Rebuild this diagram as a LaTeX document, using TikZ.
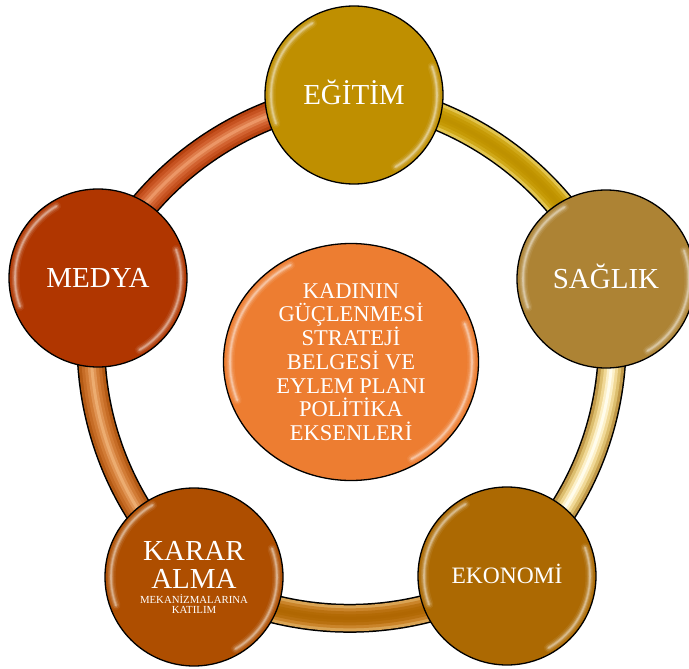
\documentclass[tikz,border=0pt]{standalone}
\usepackage{fontspec}
\setmainfont{Liberation Serif}
\usetikzlibrary{shapes.geometric,backgrounds}

\definecolor{cEgitim}{RGB}{191,143,0}
\definecolor{cSaglik}{RGB}{173,131,52}
\definecolor{cEkonomi}{RGB}{172,105,2}
\definecolor{cKarar}{RGB}{174,78,0}
\definecolor{cMedya}{RGB}{176,54,0}
\definecolor{cCentre}{RGB}{237,125,49}

% tube colours (edge -> centre)
\definecolor{tA1}{RGB}{226,196,78}\definecolor{tA2}{RGB}{208,168,24}\definecolor{tA3}{RGB}{198,154,6}\definecolor{tA4}{RGB}{193,148,0}\definecolor{tA5}{RGB}{190,145,0}
\definecolor{tB1}{RGB}{192,152,72}\definecolor{tB2}{RGB}{220,190,110}\definecolor{tB3}{RGB}{240,216,150}\definecolor{tB4}{RGB}{252,240,200}\definecolor{tB5}{RGB}{255,252,236}
\definecolor{tC1}{RGB}{218,164,84}\definecolor{tC2}{RGB}{202,132,42}\definecolor{tC3}{RGB}{186,113,16}\definecolor{tC4}{RGB}{179,106,5}\definecolor{tC5}{RGB}{176,103,2}
\definecolor{tD1}{RGB}{180,90,20}\definecolor{tD2}{RGB}{198,108,38}\definecolor{tD3}{RGB}{210,124,54}\definecolor{tD4}{RGB}{224,148,84}\definecolor{tD5}{RGB}{236,172,112}
\definecolor{tE1}{RGB}{182,66,16}\definecolor{tE2}{RGB}{198,82,32}\definecolor{tE3}{RGB}{210,98,48}\definecolor{tE4}{RGB}{222,124,74}\definecolor{tE5}{RGB}{236,150,102}

\newcommand\tubeseg[7]{%
  \draw[line width=29pt, black] (#1.center) to[ringbend] (#2.center);
  \draw[line width=26pt, #3] (#1.center) to[ringbend] (#2.center);
  \draw[line width=20pt, #4] (#1.center) to[ringbend] (#2.center);
  \draw[line width=14pt, #5] (#1.center) to[ringbend] (#2.center);
  \draw[line width=8pt, #6] (#1.center) to[ringbend] (#2.center);
  \draw[line width=3pt, #7] (#1.center) to[ringbend] (#2.center);
}

\newcommand\shineball[2]{%
  \foreach \w/\o in {9/0.07, 6/0.12, 3.5/0.2, 1.6/0.3}{
    \draw[white, opacity=\o, line width=\w pt, line cap=round]
      ([shift={(160:#2)}]#1.center) arc[start angle=160, end angle=240, radius=#2];
    \draw[white, opacity=\o, line width=\w pt, line cap=round]
      ([shift={(-20:#2)}]#1.center) arc[start angle=-20, end angle=60, radius=#2];
  }}

\newcommand\shineoval[3]{%
  \foreach \w/\o in {9/0.07, 6/0.12, 3.5/0.2, 1.6/0.3}{
    \draw[white, opacity=\o, line width=\w pt, line cap=round]
      ([shift={(160:#2 and #3)}]#1.center) arc[start angle=160, end angle=240, x radius=#2, y radius=#3];
    \draw[white, opacity=\o, line width=\w pt, line cap=round]
      ([shift={(-20:#2 and #3)}]#1.center) arc[start angle=-20, end angle=60, x radius=#2, y radius=#3];
  }}

\begin{document}
\begin{tikzpicture}[x=1pt, y=-1pt,
  ball/.style={circle, draw=black, line width=1.3pt, minimum size=178pt, inner sep=0pt, text=white, align=center},
  bigfont/.style={font=\fontsize{29}{30}\selectfont, text height=19pt, text depth=0pt},
  oval/.style={ellipse, draw=black, line width=1.3pt, fill=cCentre, minimum width=255pt, minimum height=237pt, inner sep=0pt, text=white, align=center, font=\fontsize{22.5}{23.7}\selectfont},
  ringbend/.style={bend left=30, looseness=0.91}
]
\useasboundingbox (0,0) rectangle (689,669);

\node[ball, fill=cEgitim, bigfont] (egitim) at (354,95) {EĞİTİM};
\node[ball, fill=cSaglik, bigfont] (saglik) at (606,279) {SAĞLIK};
\node[ball, fill=cEkonomi, font=\fontsize{23.5}{24}\selectfont, text height=15.5pt, text depth=0pt] (ekonomi) at (507,576) {EKONOMİ};
\node[ball, fill=cKarar, text width=130pt] (karar) at (194,577)
  {{\fontsize{29}{28}\selectfont KARAR\\ALMA\par}\vspace{5pt}{\fontsize{10.8}{10}\selectfont MEKANİZMALARINA\\KATILIM\par}};
\node[ball, fill=cMedya, bigfont] (medya) at (98,278) {MEDYA};
\node[oval] (centre) at (351,362)
  {KADININ\\GÜÇLENMESİ\\STRATEJİ\\BELGESİ VE\\EYLEM PLANI\\POLİTİKA\\EKSENLERİ};

\begin{scope}[on background layer]
  \tubeseg{egitim}{saglik}{tA1}{tA2}{tA3}{tA4}{tA5}
  \tubeseg{saglik}{ekonomi}{tB1}{tB2}{tB3}{tB4}{tB5}
  \tubeseg{ekonomi}{karar}{tC1}{tC2}{tC3}{tC4}{tC5}
  \tubeseg{karar}{medya}{tD1}{tD2}{tD3}{tD4}{tD5}
  \tubeseg{medya}{egitim}{tE1}{tE2}{tE3}{tE4}{tE5}
\end{scope}

\shineball{egitim}{83}
\shineball{saglik}{83}
\shineball{ekonomi}{83}
\shineball{karar}{83}
\shineball{medya}{83}
\shineoval{centre}{121}{112}
\end{tikzpicture}
\end{document}
